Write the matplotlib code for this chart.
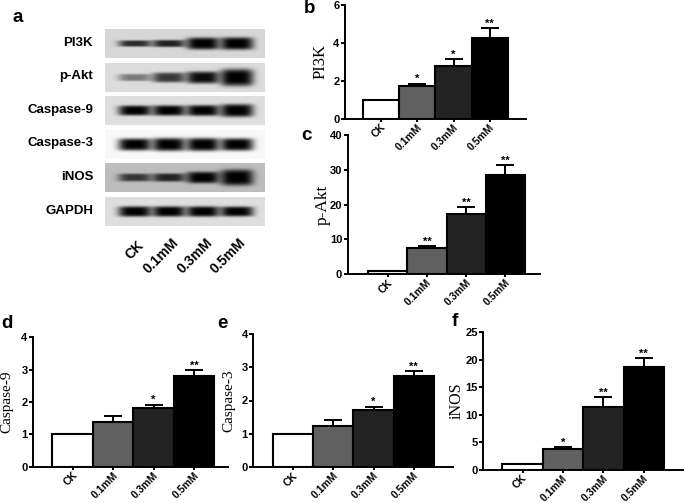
import matplotlib
matplotlib.use('Agg')
import matplotlib.pyplot as plt
import matplotlib.transforms as mtrans
import numpy as np

W, H = 684, 503

doses = ['CK', '0.1mM', '0.3mM', '0.5mM']
bar_colors = ['white', '#606060', '#232323', 'black']

pi3k = [1, 1.7, 2.8, 4.25]
pi3k_err = [0, 0.15, 0.33, 0.55]
pi3k_stars = ['', '*', '*', '**']

pakt = [1, 7.5, 17.3, 28.6]
pakt_err = [0, 0.7, 2.1, 2.8]
pakt_stars = ['', '**', '**', '**']

casp9 = [1, 1.38, 1.82, 2.8]
casp9_err = [0, 0.2, 0.1, 0.2]
casp9_stars = ['', '', '*', '**']

casp3 = [1, 1.24, 1.72, 2.72]
casp3_err = [0, 0.17, 0.1, 0.17]
casp3_stars = ['', '', '*', '**']

inos = [1, 3.7, 11.3, 18.6]
inos_err = [0, 0.4, 1.9, 1.6]
inos_stars = ['', '*', '**', '**']

blot_names = ['PI3K', 'p-Akt', 'Caspase-9', 'Caspase-3', 'iNOS', 'GAPDH']
blot_background = [0.84, 0.86, 0.87, 0.97, 0.74, 0.87]
# band strength per lane, and band half height in px
blot_dark = [[0.8, 0.85, 1.0, 1.0], [0.45, 0.75, 0.95, 1.0], [1, 1, 1, 1],
             [1, 1, 1, 1], [0.72, 0.82, 1.0, 1.0], [1, 1, 1, 1]]
blot_thick = [[3.2, 3.6, 6.0, 6.2], [3.6, 5.0, 6.0, 8.5], [5.0, 5.2, 5.4, 6.4],
              [6.0, 6.5, 6.5, 6.2], [4.0, 4.2, 5.8, 8.0], [5.2, 5.2, 5.2, 5.0]]

plt.rcParams['font.family'] = ['Liberation Sans', 'DejaVu Sans']


def panel(values, errors, stars, ylabel, yticks, box, bars, lab_x, lab_size):
    left, right, y0, ytop = box
    ax = fig.add_axes([left / W, 1 - y0 / H, (right - left) / W, (y0 - ytop) / H])
    ax.patch.set_visible(False)
    w = (bars[1] - bars[0]) / 4
    ax.set_xlim((left - bars[0]) / w - 0.5, (right - bars[0]) / w - 0.5)
    ax.set_ylim(0, yticks[-1])
    x = np.arange(4)
    ax.bar(x, values, width=1, color=bar_colors, edgecolor='black', linewidth=1.5, zorder=3)
    for i in x:
        if errors[i] > 0:
            ax.errorbar(i, values[i], yerr=[[0], [errors[i]]], color='black',
                        elinewidth=1.4, capsize=6.5, capthick=1.4, zorder=2)
        if stars[i]:
            ax.annotate(stars[i], (i, values[i] + errors[i]), xytext=(0, -0.5),
                        textcoords='offset points', ha='center', va='bottom',
                        fontsize=8, fontweight='bold')
    for s in ['top', 'right']:
        ax.spines[s].set_visible(False)
    for s in ['left', 'bottom']:
        ax.spines[s].set_linewidth(1.4)
    ax.set_yticks(yticks)
    ax.set_xticks(x)
    ax.set_xticklabels(doses, rotation=45, ha='right', va='center', rotation_mode='anchor')
    ax.tick_params(axis='y', width=1.4, length=3, pad=1, labelsize=8)
    ax.tick_params(axis='x', width=1.4, length=2.5, pad=2.5, labelsize=7.5)
    shift = mtrans.ScaledTranslation(3 / 100, 0, fig.dpi_scale_trans)
    for t in ax.get_xticklabels():
        t.set_fontweight('bold')
        t.set_transform(t.get_transform() + shift)
    for t in ax.get_yticklabels():
        t.set_fontweight('bold')
    fig.text(lab_x / W, 1 - (y0 + ytop) / 2 / H, ylabel, rotation=90, ha='center', va='center',
             family=['Liberation Serif'], fontsize=lab_size)


fig = plt.figure(figsize=(W / 100, H / 100), dpi=100)

# blot panel, drawn in figure pixels
blot = fig.add_axes([0, 0, 1, 1])
blot.set_xlim(0, W)
blot.set_ylim(H, 0)
blot.axis('off')
lanes = [135, 169, 203, 237]
for r, name in enumerate(blot_names):
    top = 29 + r * 33.6
    xx, yy = np.meshgrid(np.arange(105, 265) + 0.5, np.arange(0, 29) + 0.5)
    img = np.full(xx.shape, blot_background[r])
    for lane, dark, thick in zip(lanes, blot_dark[r], blot_thick[r]):
        shape = np.exp(-(((xx - lane) / 16.5) ** 4 + ((yy - 14.5) / thick) ** 4))
        img = img * (1 - dark * shape)
    blot.imshow(img, cmap='gray', vmin=0, vmax=1, extent=(105, 265, top + 29, top),
                interpolation='bilinear', aspect='auto')
    blot.text(93, top + 13.5, name, ha='right', va='center', fontsize=9.5, fontweight='bold')
blot.set_xlim(0, W)
blot.set_ylim(H, 0)
for lab, x_end, y_end in zip(doses, [137, 171, 205, 238], [238, 236, 236, 236]):
    blot.text(x_end, y_end, lab, rotation=45, ha='right', va='top', rotation_mode='anchor',
              fontsize=10, fontweight='bold')

for lab, px, py in zip('abcdef', [18, 310, 306, 7, 222, 455], [17, 8, 135, 323, 323, 322]):
    blot.text(px, py, lab, ha='center', va='center', fontsize=13.5, fontweight='bold')

panel(pi3k, pi3k_err, pi3k_stars, 'PI3K', [0, 2, 4, 6], (345, 526, 118.5, 5), (362.7, 508), 321, 12)
panel(pakt, pakt_err, pakt_stars, 'p-Akt', [0, 10, 20, 30, 40], (347.7, 540, 274.3, 135), (368.3, 524.7), 323, 12.5)
panel(casp9, casp9_err, casp9_stars, 'Caspase-9', [0, 1, 2, 3, 4], (33, 228, 466.7, 337.3), (52.3, 214.3), 7, 11)
panel(casp3, casp3_err, casp3_stars, 'Caspase-3', [0, 1, 2, 3, 4], (253.3, 453, 467.3, 333.7), (272.7, 434), 229, 11)
panel(inos, inos_err, inos_stars, 'iNOS', [0, 5, 10, 15, 20, 25], (483.3, 683, 469.7, 332), (502.3, 664), 457, 11.5)

fig.savefig('out.png', dpi=100)
